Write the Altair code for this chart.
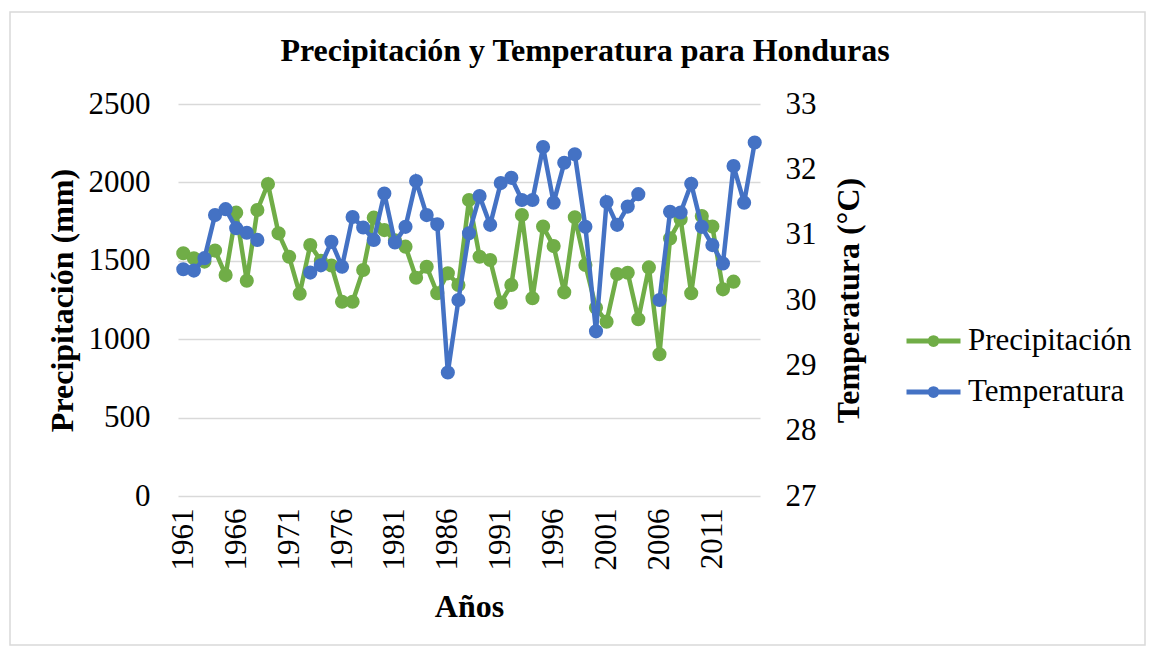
import altair as alt
import pandas as pd

years = list(range(1961, 2016))
precip = [1548, 1516, 1495, 1565, 1409, 1807, 1373, 1824, 1990, 1675,
          1526, 1290, 1601, 1500, 1470, 1239, 1239, 1441, 1775, 1696,
          1630, 1590, 1392, 1462, 1293, 1420, 1346, 1888, 1526, 1505,
          1233, 1346, 1792, 1261, 1718, 1594, 1299, 1777, 1473, 1200,
          1112, 1416, 1424, 1127, 1458, 904, 1643, 1765, 1293, 1786,
          1718, 1318, 1367, None, None]
temp = [30.47, 30.45, 30.64, 31.30, 31.39, 31.10, 31.03, 30.92, None, None,
        None, None, 30.42, 30.53, 30.89, 30.51, 31.27, 31.11, 30.92, 31.63,
        30.88, 31.12, 31.82, 31.30, 31.16, 28.89, 30.00, 31.02, 31.59, 31.15,
        31.79, 31.87, 31.53, 31.53, 32.34, 31.49, 32.10, 32.23, 31.12, 29.52,
        31.50, 31.15, 31.43, 31.62, None, 30.00, 31.35, 31.34, 31.78, 31.12,
        30.84, 30.56, 32.05, 31.49, 32.41]
series_names = ["Precipitación", "Temperatura"]
colors = ["#70AD47", "#4472C4"]
x_ticks = list(range(1961, 2012, 5))
precip_ticks = [0, 500, 1000, 1500, 2000, 2500]
temp_ticks = [27, 28, 29, 30, 31, 32, 33]

df = pd.DataFrame({"Año": years, "Precipitación": precip, "Temperatura": temp})

FONT = "Liberation Serif"
FS = 31
FT = 32
GRID = "#d9d9d9"

color_scale = alt.Scale(domain=series_names, range=colors)
legend_path = "M-2,0L2,0M-0.25,0A0.25,0.25,0,1,1,0.25,0A0.25,0.25,0,1,1,-0.25,0"
legend = alt.Legend(title=None, orient="none", legendX=739.5, legendY=221,
                    symbolType=legend_path, symbolSize=729, symbolStrokeWidth=5,
                    labelFont=FONT, labelFontSize=FS, labelColor="black",
                    labelOffset=18.5, rowPadding=20, padding=0, labelLimit=400)

x_enc = alt.X("Año:Q",
              scale=alt.Scale(domain=[1960.5, 2015.5], nice=False, zero=False),
              axis=alt.Axis(values=x_ticks, format="d", labelAngle=270,
                            labelFont=FONT, labelFontSize=FS, labelColor="black",
                            labelPadding=12, grid=False, ticks=False, tickSize=0,
                            domain=False, title="Años", titleFont=FONT,
                            titleFontSize=FT, titleFontWeight="bold", titleColor="black",
                            titleX=291, titleY=110, titleAlign="center",
                            titleBaseline="middle", labelOverlap=False))

y_p = alt.Y("Precipitación:Q",
            scale=alt.Scale(domain=[0, 2500], nice=False),
            axis=alt.Axis(orient="left", values=precip_ticks, format="d", labelFont=FONT,
                          labelFontSize=FS, labelColor="black", labelPadding=28,
                          grid=True, gridColor=GRID, gridWidth=1.5, ticks=False,
                          tickSize=0, domain=False, title="Precipitación (mm)",
                          titleFont=FONT, titleFontSize=FT, titleFontWeight="bold",
                          titleColor="black", titleAngle=270, titleX=-116, titleY=196,
                          titleAlign="center", titleBaseline="middle"))

y_t = alt.Y("Temperatura:Q",
            scale=alt.Scale(domain=[27, 33], nice=False, zero=False),
            axis=alt.Axis(orient="right", values=temp_ticks, format="d", labelFont=FONT,
                          labelFontSize=FS, labelColor="black", labelPadding=25,
                          grid=False, ticks=False, tickSize=0, domain=False,
                          title="Temperatura (°C)", titleFont=FONT, titleFontSize=FT,
                          titleFontWeight="bold", titleColor="black", titleAngle=270,
                          titleX=88, titleY=196, titleAlign="center",
                          titleBaseline="middle"))

color_enc = alt.Color("serie:N", scale=color_scale, legend=legend)

base = alt.Chart(df)

p_line = base.mark_line(strokeWidth=4.5, invalid="break-paths-filter-domains").transform_calculate(
    serie="'Precipitación'").encode(x=x_enc, y=y_p, color=color_enc)
p_pt = base.mark_circle(size=200, opacity=1).transform_calculate(
    serie="'Precipitación'").encode(x=x_enc, y=y_p, color=color_enc)

t_line = base.mark_line(strokeWidth=4.5, invalid="break-paths-filter-domains").transform_calculate(
    serie="'Temperatura'").encode(x=x_enc, y=y_t, color=color_enc)
t_pt = base.mark_circle(size=200, opacity=1).transform_calculate(
    serie="'Temperatura'").encode(x=x_enc, y=y_t, color=color_enc)

frame = alt.Chart(alt.Data(values=[{"k": 1}])).mark_rect(
    fillOpacity=0, stroke="#d9d9d9", strokeWidth=1.5
).encode(x=alt.value(-168), x2=alt.value(967), y=alt.value(-92), y2=alt.value(541))

left = alt.layer(p_line, p_pt)
right = alt.layer(t_line, t_pt)

chart = alt.layer(frame, left, right).resolve_scale(y="independent", color="shared").properties(
    width=582, height=392,
    background="white",
    autosize=alt.AutoSizeParams(type="none"),
    padding={"left": 170, "top": 96, "right": 386, "bottom": 152},
    title=alt.TitleParams("Precipitación y Temperatura para Honduras", font=FONT,
                          fontSize=FT, fontWeight="bold", color="black",
                          anchor="middle", dx=116, dy=124, baseline="alphabetic", offset=42),
).configure_view(stroke="transparent", strokeWidth=0).configure_axis(
    domain=False, ticks=False
)

chart.save("out.html", embed_options={"renderer": "svg", "actions": False})
